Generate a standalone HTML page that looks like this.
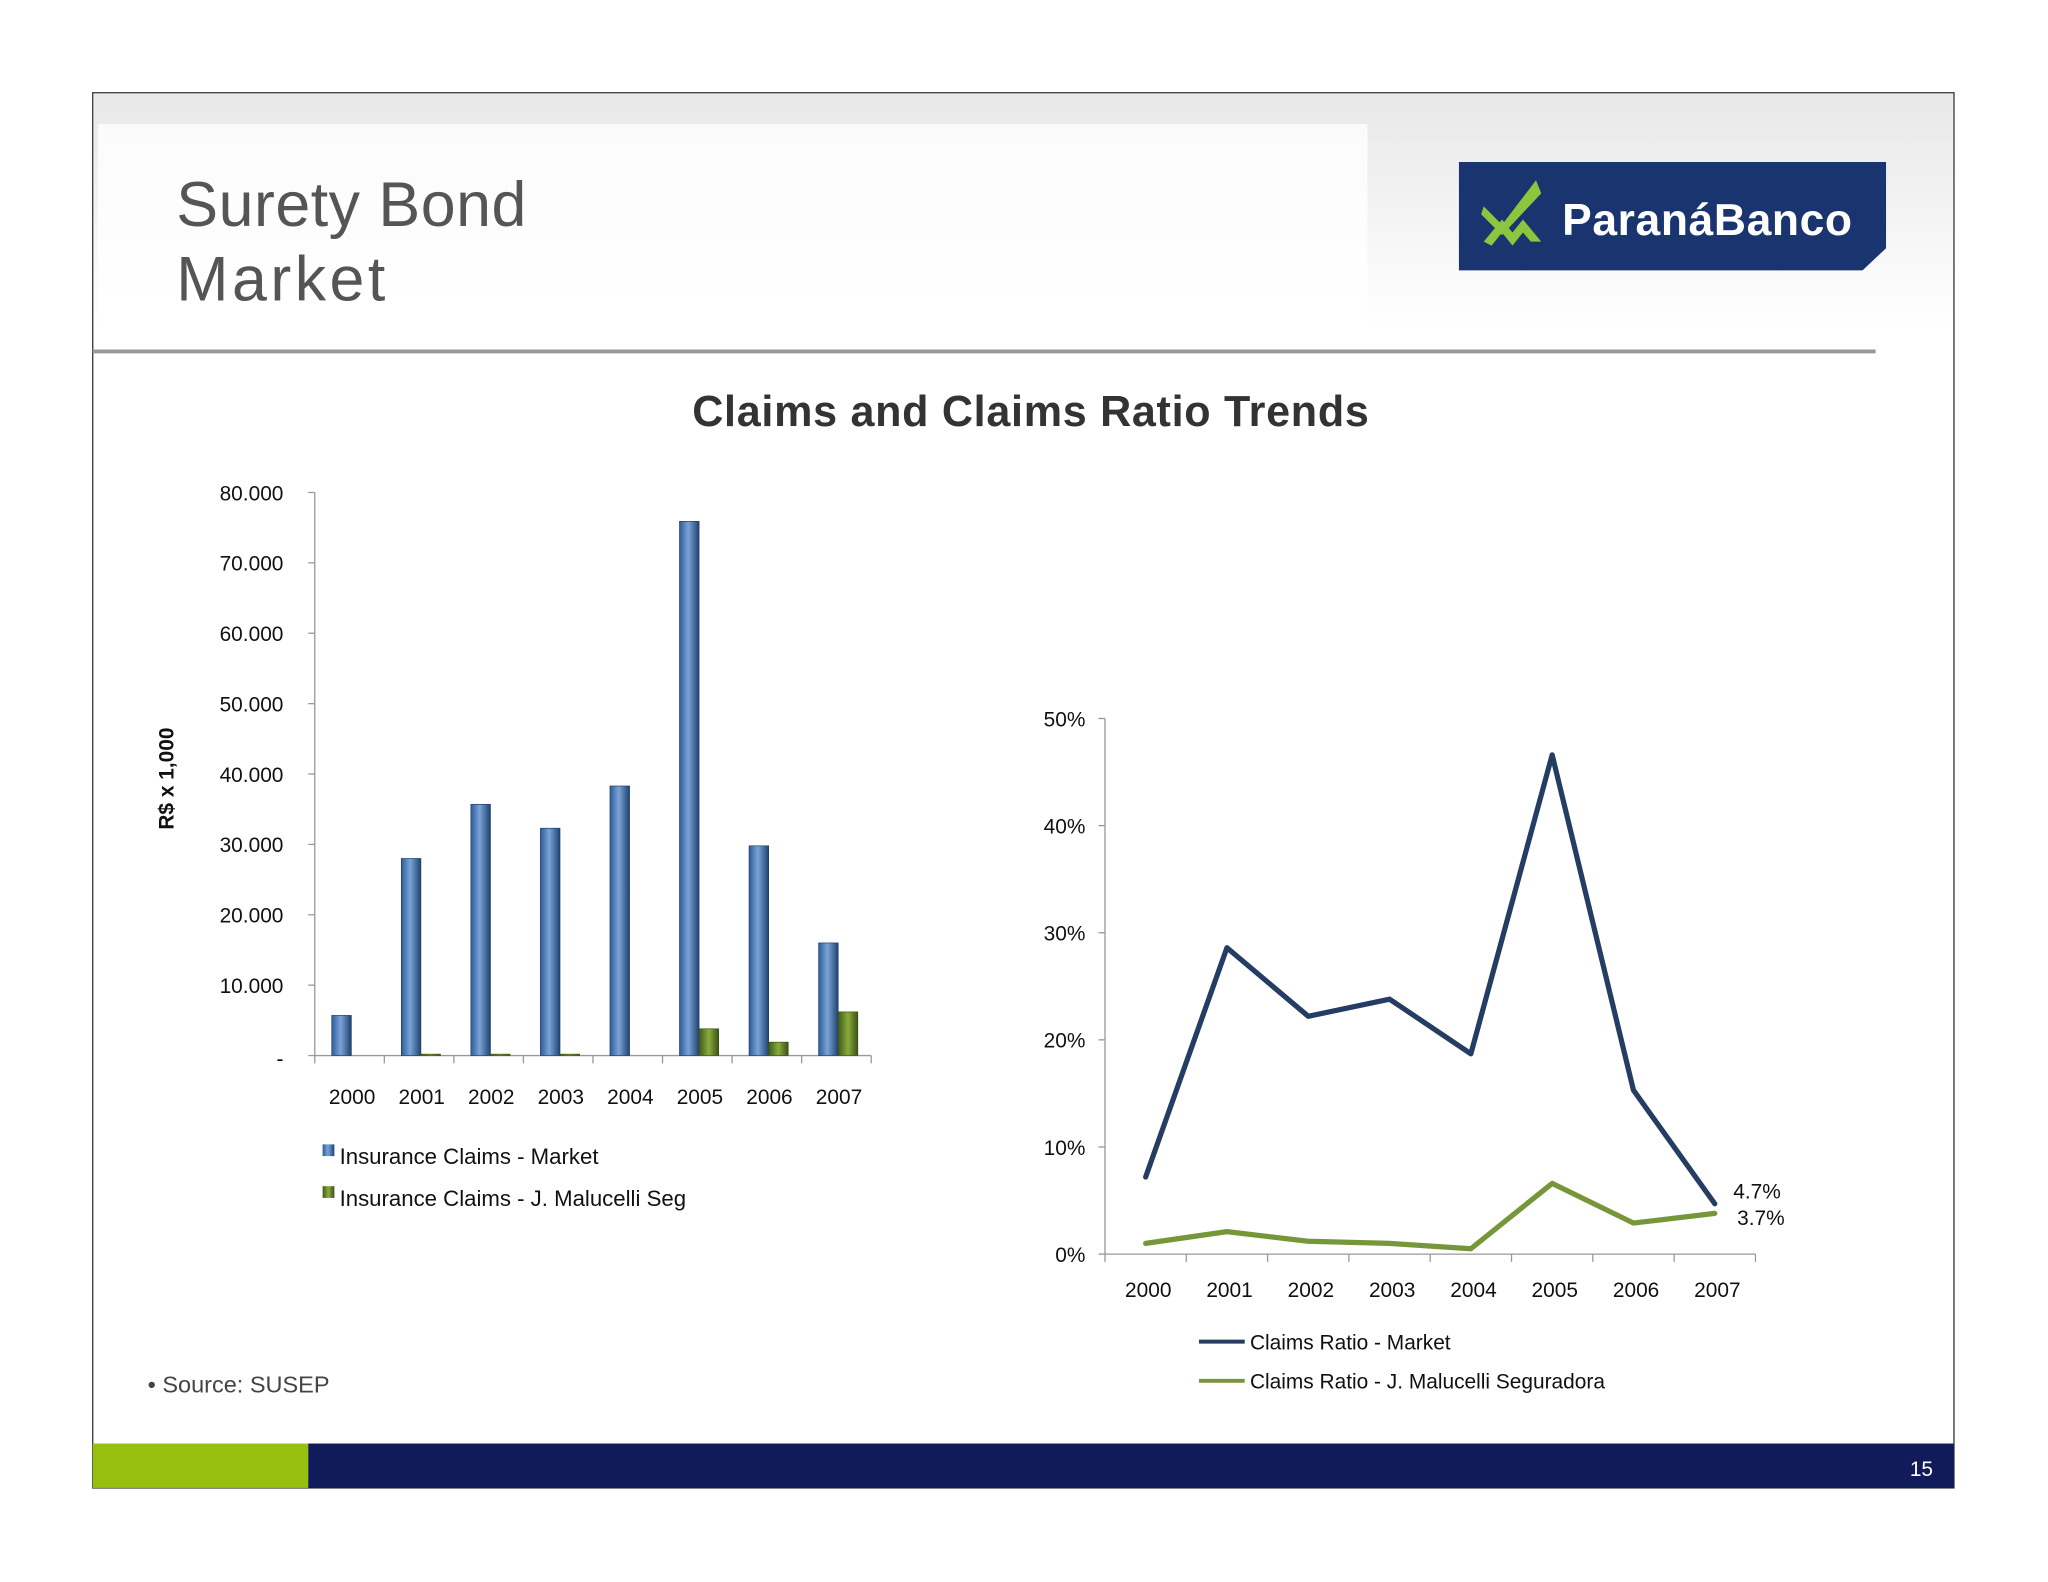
<!DOCTYPE html>
<html><head><meta charset="utf-8"><style>
html,body{margin:0;padding:0;background:#fff;}
svg{display:block;font-family:"Liberation Sans",sans-serif;}
</style></head><body>
<svg id="s" width="2048" height="1582" viewBox="0 0 1568 1211" preserveAspectRatio="none">
<defs>
<linearGradient id="hdr" x1="0" y1="0" x2="0" y2="1"><stop offset="0" stop-color="#e8e8e8"/><stop offset="1" stop-color="#ffffff"/></linearGradient>
<linearGradient id="blue" x1="0" y1="0" x2="1" y2="0"><stop offset="0" stop-color="#2e5c9a"/><stop offset="0.45" stop-color="#7aa3d8"/><stop offset="1" stop-color="#1f4270"/></linearGradient>
<linearGradient id="green" x1="0" y1="0" x2="1" y2="0"><stop offset="0" stop-color="#3f5a1a"/><stop offset="0.5" stop-color="#8aab3c"/><stop offset="1" stop-color="#3a5215"/></linearGradient>
</defs>
<rect x="71" y="71" width="1425" height="1068" fill="#fff" stroke="#333" stroke-width="1"/>
<rect x="72" y="72" width="1423" height="180" fill="url(#hdr)"/>
<rect x="75" y="95" width="972" height="160" fill="#fff" opacity="0.8"/>
<text x="135" y="173" font-size="48" fill="#555" textLength="268">Surety Bond</text>
<text x="135" y="230" font-size="48" fill="#555" textLength="160">Market</text>
<g>
<path d="M1117,124 H1444 V190 L1426,207 H1117 Z" fill="#1a3470"/>
<path d="M1136,185 L1150,168 L1158,178 L1166,168 L1180,185 L1172,185 L1166,178 L1158,188 L1150,178 L1142,188 Z" fill="#8cc63f"/>
<path d="M1136,158 L1150,172 L1176,138 L1180,148 L1150,180 L1134,164 Z" fill="#8cc63f"/>
<text x="1196" y="180" font-size="34" font-weight="bold" fill="#fff" textLength="222">ParanáBanco</text>
</g>
<line x1="71" y1="269" x2="1436" y2="269" stroke="#999" stroke-width="3"/>
<text x="530" y="326" font-size="33" font-weight="bold" fill="#333" textLength="518">Claims and Claims Ratio Trends</text>
<g id="bar"></g>
<g id="line"></g>
<text x="113" y="1066" font-size="18" fill="#444">• Source: SUSEP</text>
<rect x="71" y="1105" width="165" height="34" fill="#97bf0d"/>
<rect x="236" y="1105" width="1260" height="34" fill="#111b5a"/>
<text x="1480" y="1130" font-size="16" fill="#fff" text-anchor="end">15</text>
</svg>
<script>
const years=["2000","2001","2002","2003","2004","2005","2006","2007"];
const marketClaims=[5700,28000,35700,32300,38300,75900,29800,16000];
const jmClaims=[0,200,200,200,0,3800,1900,6200];
const barTicks=[0,10000,20000,30000,40000,50000,60000,70000,80000];
const barTickLabels=["-","10.000","20.000","30.000","40.000","50.000","60.000","70.000","80.000"];
const ratioMarket=[7.2,28.6,22.2,23.8,18.7,46.6,15.3,4.7];
const ratioJM=[1.0,2.1,1.2,1.0,0.5,6.6,2.9,3.8];
const ratioTicks=[0,10,20,30,40,50];
const NS="http://www.w3.org/2000/svg";
function mk(p,t,a,txt){const e=document.createElementNS(NS,t);for(const k in a)e.setAttribute(k,a[k]);if(txt!==undefined)e.textContent=txt;p.appendChild(e);return e;}
const bg=document.getElementById('bar');
const bx0=241,bx1=667,by0=808,by1=377,bmax=80000;
const bY=v=>by0-(v/bmax)*(by0-by1);
const bw=(bx1-bx0)/years.length;
mk(bg,'line',{x1:bx0,y1:by1,x2:bx0,y2:by0,stroke:'#999'});
mk(bg,'line',{x1:bx0,y1:by0,x2:bx1,y2:by0,stroke:'#999'});
barTicks.forEach((t,i)=>{const y=bY(t);
 const tk=mk(bg,'line',{x1:bx0-5,y1:y,x2:bx0,y2:y,stroke:'#999'});
 const l=mk(bg,'text',{x:217,y:(i===0?y+8:y+6),'font-size':16,'text-anchor':'end',fill:'#111'},barTickLabels[i]);});
for(let i=0;i<=years.length;i++){mk(bg,'line',{x1:bx0+i*bw,y1:by0,x2:bx0+i*bw,y2:by0+6,stroke:'#999'});}
years.forEach((yr,i)=>{const cx=bx0+i*bw;
 const h1=by0-bY(marketClaims[i]);
 const r=mk(bg,'rect',{x:cx+13,y:bY(marketClaims[i]),width:15,height:h1,fill:'url(#blue)',stroke:'#1d3a66','stroke-width':0.5});
 
 const h2=by0-bY(jmClaims[i]);
 const g=mk(bg,'rect',{x:cx+28,y:bY(jmClaims[i]),width:15,height:h2,fill:'url(#green)',stroke:'#3a5215','stroke-width':0.5});
 
 const t=mk(bg,'text',{x:cx+bw/2+2,y:845,'font-size':16,'text-anchor':'middle',fill:'#111'},yr);
 });
const yt=mk(bg,'text',{x:133,y:596,'font-size':16,'font-weight':'bold','text-anchor':'middle',transform:'rotate(-90 133 596)',fill:'#111'},'R$ x 1,000');

[["Insurance Claims  - Market","url(#blue)",885],["Insurance Claims  - J. Malucelli Seg","url(#green)",917]].forEach((L,i)=>{
 const g=mk(bg,'g',{});
 mk(g,'rect',{x:247,y:L[2]-9,width:9,height:9,fill:L[1]});
 mk(g,'text',{x:260,y:L[2]+6,'font-size':17,fill:'#111'},L[0]);});
const lg=document.getElementById('line');
const lx0=846,lx1=1344,ly0=960,ly1=550,lmax=50;
const lY=v=>ly0-(v/lmax)*(ly0-ly1);
const lw=(lx1-lx0)/years.length;
const lX=i=>lx0+lw*(i+0.5);
mk(lg,'line',{x1:lx0,y1:ly1,x2:lx0,y2:ly0,stroke:'#999'});
mk(lg,'line',{x1:lx0,y1:ly0,x2:lx1,y2:ly0,stroke:'#999'});
ratioTicks.forEach(t=>{const y=lY(t);
 const tk=mk(lg,'line',{x1:lx0-5,y1:y,x2:lx0,y2:y,stroke:'#999'});
 const l=mk(lg,'text',{x:831,y:y+6,'font-size':16,'text-anchor':'end',fill:'#111'},t+'%');});
for(let i=0;i<=years.length;i++){mk(lg,'line',{x1:lx0+i*lw,y1:ly0,x2:lx0+i*lw,y2:ly0+6,stroke:'#999'});}
years.forEach((yr,i)=>{const t=mk(lg,'text',{x:lX(i)+2,y:993,'font-size':16,'text-anchor':'middle',fill:'#111'},yr);
 });
const p1=mk(lg,'polyline',{points:ratioMarket.map((v,i)=>lX(i)+','+lY(v)).join(' '),fill:'none',stroke:'#253d63','stroke-width':4,'stroke-linejoin':'round','stroke-linecap':'round'});

const p2=mk(lg,'polyline',{points:ratioJM.map((v,i)=>lX(i)+','+lY(v)).join(' '),fill:'none',stroke:'#77963a','stroke-width':4,'stroke-linejoin':'round','stroke-linecap':'round'});

const last=years.length-1;
const a1=mk(lg,'text',{x:1327,y:lY(ratioMarket[last])-4,'font-size':16,fill:'#111'},ratioMarket[last].toFixed(1)+'%');
const a2=mk(lg,'text',{x:1330,y:lY(ratioJM[last])+9,'font-size':16,fill:'#111'},'3.7%');
[["Claims Ratio - Market","#253d63",1027],["Claims Ratio - J. Malucelli Seguradora","#77963a",1057]].forEach(L=>{
 const g=mk(lg,'g',{});
 mk(g,'line',{x1:918,y1:L[2],x2:953,y2:L[2],stroke:L[1],'stroke-width':3});
 mk(g,'text',{x:957,y:L[2]+6,'font-size':16,fill:'#111'},L[0]);});
</script>
</body></html>
